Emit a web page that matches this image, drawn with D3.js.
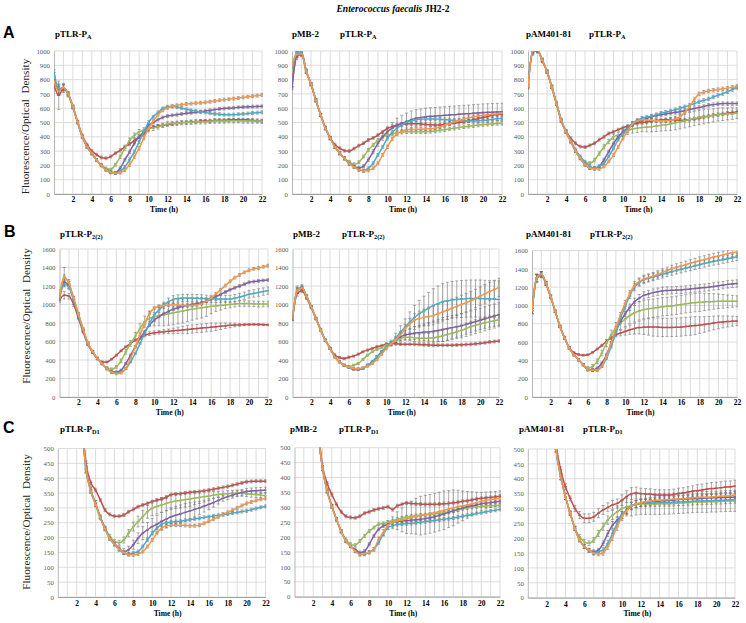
<!DOCTYPE html>
<html><head><meta charset="utf-8">
<script src="https://cdn.jsdelivr.net/npm/d3@7"></script>
<style>body{margin:0;background:#fff}svg{display:block}</style>
</head><body><svg id="c" width="746" height="623"></svg>
<script>
// ---------------- DATA ----------------
const timeH = [0,0.5,1,1.5,2,2.5,3,3.5,4, 4.5,5,5.5,6,6.5,7,7.5,8,8.5, 9,9.5,10,10.5,11,11.5,12,12.5,13, 13.5,14,14.5,15,15.5,16,16.5,17,17.5, 18,18.5,19,19.5,20,20.5,21,21.5,22];
const xTicks = [2,4,6,8,10,12,14,16,18,20,22];
const yTicksA = [0,100,200,300,400,500,600,700,800,900,1000];
const yTicksB = [0,200,400,600,800,1000,1200,1400,1600];
const yTicksC = [0,50,100,150,200,250,300,350,400,450,500];
const rowLetters = ['A','B','C'];
const promoterSubs = ['A','2(2)','D1'];
const plasmidNames = ['', 'pMB-2', 'pAM401-81'];
const seriesColors = ['#C0504D','#9BBB59','#8064A2','#4BACC6','#F79646'];

// A1 pTLR-PA
const a1Red    = [760,690,740,700,610,505,410,345,300, 275,255,250,262,285,305,330,350,375, 400,420,455,468,475,480,485,490,495, 500,500,505,505,510,510,510,515,515, 515,518,520,520,520,518,515,512,510];
const a1Green  = [820,730,745,695,605,500,400,330,285, 240,205,180,172,205,260,320,375,410, 435,445,455,462,470,480,490,493,495, 498,500,502,505,505,505,508,510,510, 510,512,512,512,510,510,510,510,508];
const a1Purple = [800,725,742,698,608,500,398,328,282, 238,200,170,152,150,180,240,295,355, 400,435,480,500,520,535,545,550,555, 560,565,568,572,576,580,585,590,595, 598,600,603,606,608,610,611,612,613];
const a1Cyan   = [850,735,745,700,610,502,400,330,283, 238,198,168,150,145,157,190,240,295, 365,435,500,540,570,598,610,613,608, 600,592,585,580,575,570,565,560,558, 555,555,555,558,560,563,566,569,572];
const a1Orange = [790,720,745,702,612,505,402,332,285, 240,200,168,150,145,150,168,205,260, 320,390,460,510,555,585,603,613,620, 625,630,632,635,638,641,645,650,655, 660,663,667,671,676,680,684,688,693];
// A2 pMB-2 pTLR-PA
const a2Red    = [750,960,975,855,765,655,555,465,395, 345,320,303,300,318,338,355,378,392, 412,435,458,472,482,488,490,492,492, 490,487,484,482,483,486,490,495,500, 505,512,520,527,535,542,550,555,560];
const a2Green  = [850,975,985,858,768,655,552,460,390, 330,285,250,225,208,222,262,308,342, 377,400,412,420,428,432,435,435,435, 435,435,437,440,445,450,455,460,465, 470,474,478,482,485,488,490,493,495];
const a2Purple = [750,970,985,858,768,655,552,460,390, 330,285,250,215,195,182,195,240,296, 354,400,435,460,480,495,505,520,530, 535,540,543,545,548,550,553,555,558, 560,562,565,567,570,571,572,574,575];
const a2Cyan   = [880,990,995,862,770,657,553,460,390, 330,285,248,212,190,170,165,180,215, 273,330,390,430,460,482,500,512,520, 523,525,525,525,523,520,518,515,512, 510,510,510,512,515,518,522,526,530];
const a2Orange = [900,975,980,855,768,655,553,460,390, 330,285,248,212,190,170,160,165,180, 215,273,330,385,420,440,450,451,452, 453,455,457,460,468,480,492,505,515, 525,533,540,545,550,554,558,562,565];
// A3 pAM401-81 pTLR-PA
const a3Red    = [750,990,1000,930,855,750,632,516,440, 390,355,332,328,340,355,380,400,423, 435,450,463,475,485,495,500,505,510, 515,518,520,520,518,515,517,520,525, 530,538,545,550,555,560,565,570,575];
const a3Green  = [760,1000,1005,935,855,748,630,512,433, 367,300,250,216,216,237,283,330,367, 400,412,423,440,455,460,465,467,470, 475,480,485,490,497,505,512,520,528, 535,540,545,550,555,558,560,562,565];
const a3Purple = [760,1000,1005,935,855,748,630,512,433, 367,300,250,205,182,180,193,240,297, 353,400,435,465,490,505,515,528,540, 548,555,560,565,570,575,582,590,598, 605,612,620,625,630,632,632,632,632];
const a3Cyan   = [760,1000,1005,940,860,755,638,520,440, 375,310,263,225,193,182,193,216,263, 320,380,423,460,495,515,530,538,545, 555,565,572,580,590,600,610,620,632, 645,655,665,678,690,702,715,730,745];
const a3Orange = [750,1000,1005,935,855,748,630,512,433, 367,300,250,205,182,175,175,193,228, 272,330,390,440,490,510,520,518,515, 512,510,512,515,525,540,570,610,660, 700,712,720,725,730,736,740,746,752];
// B1 pTLR-P2(2)
const b1Red    = [1050,1100,1090,1000,850,700,565,480,415, 380,378,409,452,500,543,579,615,644, 668,685,695,700,705,710,715,720,725, 730,735,740,745,750,755,760,765,770, 775,778,780,782,784,785,784,782,780];
const b1Green  = [1100,1300,1220,1060,895,730,580,490,416, 362,315,300,326,391,489,579,659,742, 814,850,869,880,890,900,910,920,930, 940,950,958,965,972,980,985,990,995, 1000,1005,1010,1010,1010,1008,1005,1005,1005];
const b1Purple = [1080,1240,1200,1050,887,724,579,489,416, 362,308,271,271,290,362,452,543,633, 706,778,832,870,900,925,950,965,980, 990,1000,1010,1020,1038,1060,1085,1110,1135, 1160,1180,1200,1220,1240,1248,1255,1260,1265];
const b1Cyan   = [1060,1220,1190,1040,880,720,575,485,412, 358,305,268,264,271,308,380,470,579, 688,796,887,940,990,1030,1055,1065,1070, 1070,1070,1068,1065,1062,1060,1060,1060,1060, 1060,1068,1080,1095,1110,1120,1130,1140,1150];
const b1Orange = [1080,1290,1230,1070,900,735,585,492,418, 362,305,265,253,260,308,416,543,670, 796,905,959,980,990,993,995,993,990, 990,990,995,1010,1035,1070,1115,1160,1205, 1250,1290,1320,1348,1370,1385,1395,1408,1420];
// B2 pMB-2 pTLR-P2(2)
const b2Red    = [850,1120,1150,1070,965,845,725,615,530, 455,427,416,430,442,463,489,507,525, 543,554,572,575,575,572,570,570,570, 568,565,562,560,560,560,560,560,562, 565,568,570,575,580,587,595,600,605];
const b2Green  = [850,1150,1180,1086,977,850,724,615,525, 434,380,344,330,344,362,405,452,489, 514,536,561,580,605,630,645,645,640, 637,635,637,640,650,660,675,690,705, 720,740,760,775,790,803,815,825,835];
const b2Purple = [850,1150,1180,1086,977,850,724,615,525, 434,380,344,320,300,297,308,344,380, 434,489,543,580,620,650,670,680,690, 695,700,705,710,720,730,740,750,760, 770,785,800,815,830,845,860,875,890];
const b2Cyan   = [850,1160,1185,1090,980,852,726,617,527, 436,382,345,320,300,297,308,344,380, 434,489,543,585,640,700,755,810,860, 900,930,960,990,1010,1030,1040,1050,1055, 1060,1063,1065,1065,1065,1062,1060,1057,1055];
const b2Orange = [850,1150,1175,1085,975,848,722,613,523, 432,378,342,325,310,308,318,333,362, 405,463,525,570,620,670,735,790,830, 848,860,870,880,900,920,940,960,980, 1000,1020,1040,1065,1090,1115,1140,1162,1185];
// B3 pAM401-81 pTLR-P2(2)
const b3Red    = [940,1290,1330,1235,1090,930,770,645,540, 485,465,455,462,487,524,564,607,648, 678,698,716,735,748,758,763,765,765, 763,760,760,760,762,765,770,775,780, 785,792,800,808,815,820,825,828,830];
const b3Green  = [940,1300,1340,1243,1098,935,771,644,535, 462,407,353,316,335,389,480,589,680, 753,807,851,890,920,940,955,963,970, 978,985,990,995,1002,1010,1018,1025,1030, 1035,1038,1040,1043,1045,1045,1045,1045,1045];
const b3Purple = [940,1300,1340,1243,1098,935,771,644,535, 462,407,353,298,298,316,371,462,589, 716,825,909,980,1040,1080,1110,1125,1140, 1150,1160,1163,1165,1168,1170,1175,1180,1185, 1190,1195,1200,1208,1215,1222,1230,1235,1240];
const b3Cyan   = [940,1300,1340,1243,1098,935,771,644,535, 462,407,353,298,291,298,335,425,553, 698,862,989,1110,1200,1250,1280,1295,1310, 1325,1340,1355,1370,1383,1395,1408,1420,1433, 1445,1458,1470,1480,1490,1500,1510,1520,1530];
const b3Orange = [940,1300,1340,1243,1098,935,771,644,535, 462,407,353,298,291,291,335,444,589, 753,898,1025,1130,1220,1260,1290,1305,1320, 1340,1360,1380,1400,1415,1430,1445,1460,1475, 1490,1502,1515,1528,1540,1552,1565,1575,1585];
// C1 pTLR-PD1
const c1Red    = [1000,1350,1300,1100,850,620,450,385,360, 327,293,278,272,272,276,287,295,304, 310,315,321,326,330,336,345,347,348, 350,352,354,355,358,360,363,366,369, 372,376,380,384,388,389,390,390,390];
const c1Green  = [1000,1350,1300,1100,830,600,430,360,315, 270,232,205,187,183,192,215,237,254, 271,287,299,305,310,315,320,323,325, 328,330,333,335,338,340,343,345,347, 348,349,350,349,348,346,345,343,342];
const c1Purple = [1000,1350,1300,1100,830,600,430,360,315, 270,232,198,181,164,153,159,176,198, 215,226,237,245,255,262,270,275,280, 285,290,295,300,306,312,318,325,332, 338,343,348,352,355,357,358,359,360];
const c1Cyan   = [1000,1350,1300,1100,830,600,425,355,310, 265,228,196,176,159,148,145,148,153, 170,192,215,232,245,250,252,254,255, 258,260,263,265,268,270,273,275,278, 280,283,285,288,290,294,298,302,305];
const c1Orange = [1000,1350,1300,1100,830,600,428,358,312, 268,230,197,179,161,150,142,142,145, 153,170,192,215,232,240,242,242,242, 241,240,240,242,248,255,262,270,278, 285,292,300,308,315,320,325,329,332];
// C2 pMB-2 pTLR-PD1
const c2Red    = [1000,1300,1250,1050,800,580,440,380,343, 310,285,270,266,265,270,280,285,291, 295,298,302,292,305,310,315,313,312, 311,310,310,310,311,312,313,315,317, 320,322,325,328,330,332,333,335,337];
const c2Green  = [1000,1300,1250,1050,780,560,432,355,304, 260,220,192,176,173,187,204,220,232, 243,246,250,255,260,264,268,270,272, 274,275,277,278,280,282,285,288,291, 295,298,300,302,303,304,305,306,307];
const c2Purple = [1000,1300,1250,1050,780,560,432,355,304, 260,220,187,170,159,148,153,176,204, 226,237,243,248,252,254,255,257,258, 260,262,265,268,273,278,283,288,293, 298,302,305,308,312,314,316,318,320];
const c2Cyan   = [1000,1300,1250,1050,780,560,430,353,302, 258,218,186,169,153,142,142,150,159, 181,209,232,238,242,244,245,246,248, 250,252,254,256,258,260,262,264,267, 270,273,276,279,282,285,288,290,293];
const c2Orange = [1000,1300,1250,1050,780,560,432,355,304, 260,220,187,170,153,142,145,148,159, 192,215,240,248,255,258,262,266,270, 272,275,278,282,286,290,294,298,302, 305,308,312,316,320,323,326,328,330];
// C3 pAM401-81 pTLR-PD1
const c3Red    = [1000,1300,1300,1150,950,720,520,430,373, 334,300,278,267,267,272,284,295,304, 312,317,328,340,350,352,350,349,348, 346,345,345,345,347,350,352,355,358, 360,362,365,367,368,370,372,373,375];
const c3Green  = [1000,1300,1300,1150,930,700,500,407,340, 284,233,205,188,183,194,216,239,261, 278,289,300,305,310,313,315,315,315, 315,315,316,316,317,318,319,320,321, 322,322,322,323,323,324,325,325,325];
const c3Purple = [1000,1300,1300,1150,930,700,500,407,340, 284,233,194,172,160,155,160,183,216, 244,261,278,295,308,314,318,320,322, 324,325,326,327,328,330,331,332,333, 333,334,335,336,336,337,337,338,338];
const c3Cyan   = [1000,1300,1300,1150,930,700,500,407,340, 284,233,194,172,158,151,155,160,183, 216,250,278,295,310,315,318,318,318, 319,320,320,320,321,322,322,323,324, 325,325,326,326,327,327,328,329,330];
const c3Orange = [1000,1300,1300,1150,930,700,500,407,340, 284,233,194,172,160,149,147,151,172, 205,239,272,292,308,315,320,323,325, 327,328,329,330,331,332,333,335,336, 337,338,338,339,340,341,342,343,345];

// error bar half-widths (same time points)
const eA1red   = [20,100,30,15,12,10,10,10,10, 10,10,10,10,10,12,12,12,12, 12,12,12,10,10,10,10,10,10, 10,10,10,10,10,10,10,10,10, 10,10,10,10,10,10,10,10,10];
const eA1green = [30,40,25,15,12,10,10,10,10, 8,8,8,8,10,12,14,16,16, 16,18,20,18,16,15,15,15,15, 15,15,15,15,15,15,15,15,15, 15,15,15,15,15,15,15,15,15];
const eA1small = [20,30,20,12,10,8,8,8,8, 8,8,8,8,8,10,10,12,12, 12,12,12,10,10,10,10,10,10, 10,10,10,10,10,10,10,10,10, 10,10,10,10,10,10,10,10,10];
const eA2purple= [20,20,15,12,10,10,10,10,10, 10,10,10,10,10,10,10,12,15, 20,25,30,40,50,55,60,60,60, 60,60,60,60,60,60,60,60,60, 60,60,60,60,60,60,60,60,60];
const eSmall   = [15,20,15,12,10,10,10,10,10, 10,10,10,10,10,10,10,10,10, 10,10,12,12,12,12,12,12,12, 12,12,12,12,12,12,12,12,12, 12,12,12,12,12,12,12,12,12];
const eA3green = [15,15,15,12,10,10,10,10,10, 10,10,10,10,10,12,12,14,15, 18,20,22,25,28,30,30,32,35, 38,40,42,45,48,50,50,50,50, 50,50,48,46,45,44,42,40,38];
const eB1green = [60,100,50,30,20,15,15,12,12, 12,12,15,15,20,25,30,40,50, 60,80,100,110,120,125,130,130,130, 125,120,115,110,100,80,60,50,40, 35,30,30,30,30,30,30,30,30];
const eB1red   = [30,40,30,20,15,12,10,10,10, 10,10,10,10,10,10,10,12,15, 18,20,20,20,22,25,30,35,40, 45,45,45,45,45,45,40,35,30, 25,20,15,12,10,10,10,10,10];
const eB1cyan  = [20,30,20,15,12,10,10,10,10, 10,10,10,10,10,10,10,10,10, 15,20,25,30,35,40,40,40,40, 40,40,40,40,40,40,40,40,40, 40,40,40,40,40,40,40,40,40];
const eB1small = [20,30,20,15,12,12,12,12,12, 12,12,12,12,12,12,12,12,12, 15,15,15,15,15,15,15,15,15, 15,15,15,15,15,15,15,15,15, 15,15,15,15,15,15,15,15,15];
const eB2cyan  = [20,40,30,15,12,10,10,10,10, 10,10,10,10,10,10,10,10,10, 12,15,20,30,50,70,90,110,130, 145,160,170,180,190,195,200,200,200, 200,200,200,200,200,200,200,200,200];
const eB2orange= [20,30,20,15,12,10,10,10,10, 10,10,10,10,10,10,10,10,10, 10,12,15,20,30,40,50,60,70, 80,90,100,100,100,100,100,100,100, 100,100,100,100,100,100,100,100,100];
const eB2purple= [20,30,20,15,12,10,10,10,10, 10,10,10,10,10,10,10,10,10, 10,12,15,20,30,40,50,60,70, 80,90,100,110,120,130,130,130,130, 130,130,130,130,130,130,130,130,130];
const eB2green = [20,30,20,15,12,10,10,10,10, 10,10,10,10,10,10,10,10,10, 10,10,12,15,20,25,30,35,40, 45,50,50,55,55,60,60,60,60, 60,60,60,60,60,60,60,60,60];
const eB3green = [30,40,30,20,15,12,12,12,12, 12,12,12,15,20,25,30,40,50, 60,70,80,90,100,100,100,100,100, 100,100,100,100,100,100,100,100,100, 100,95,90,85,80,75,70,65,60];
const eB3red   = [30,40,30,20,15,12,12,12,12, 10,10,10,10,10,10,12,15,18, 20,30,40,50,60,70,80,90,100, 100,100,100,100,100,100,100,100,100, 90,85,80,75,70,65,60,55,50];
const eB3mid   = [30,40,30,20,15,12,12,12,12, 12,12,12,12,12,12,12,15,18, 20,25,30,35,40,40,40,40,40, 40,40,40,40,40,40,40,40,40, 40,40,40,40,40,40,40,40,40];
const eC1green = [10,10,10,10,10,10,10,10,10, 6,6,6,6,8,10,12,15,18, 20,22,25,25,25,25,25,25,25, 25,25,22,20,18,15,12,10,10, 10,10,10,10,10,10,10,10,10];
const eC1purple= [10,10,10,10,10,10,10,10,10, 6,6,6,6,8,10,12,15,18, 22,25,28,30,30,30,30,30,30, 30,28,25,22,20,18,15,12,10, 10,10,10,10,10,10,10,10,10];
const eCsmall  = [10,10,10,10,10,8,8,6,6, 5,5,5,5,5,5,5,5,5, 5,5,5,5,5,5,5,5,5, 5,5,5,5,5,5,5,5,5, 5,5,5,5,5,5,5,5,5];
const eC2orange= [10,10,10,10,10,8,8,6,6, 5,5,5,5,5,5,5,5,6, 8,10,15,20,30,40,50,55,60, 65,65,65,65,65,65,62,60,55, 50,45,40,35,30,28,26,25,25];
const eC3red   = [10,10,10,10,10,10,10,10,10, 8,10,12,15,15,15,15,15,15, 15,15,18,20,20,20,18,18,18, 18,18,18,18,18,18,18,18,18, 20,20,20,20,20,20,20,20,20];
const eC3green = [10,10,10,10,10,10,10,10,10, 8,8,8,8,8,8,10,12,14, 15,20,25,30,35,35,35,35,35, 35,35,35,35,35,35,35,35,35, 35,35,35,35,35,35,35,35,35];
const eC3small = [10,10,10,10,10,10,10,10,10, 6,6,6,6,6,6,6,8,10, 12,12,12,12,12,12,12,12,12, 12,12,12,12,12,12,12,12,12, 12,12,12,12,12,12,12,12,12];

// ---------------- LAYOUT ----------------
const SERIF = '"Liberation Serif","Times New Roman",serif';
const SANS = '"Liberation Sans",Arial,sans-serif';
const panels = [
 {row:0,col:0,x0:54,x1:262,yt:51,yb:194,ymax:1000,ticks:yTicksA,
  s:[a1Red,a1Green,a1Purple,a1Cyan,a1Orange], e:[eA1red,eA1green,eA1small,eA1small,eA1small]},
 {row:0,col:1,x0:292,x1:502,yt:51,yb:194,ymax:1000,ticks:yTicksA,
  s:[a2Red,a2Green,a2Purple,a2Cyan,a2Orange], e:[eSmall,eSmall,eA2purple,eSmall,eSmall]},
 {row:0,col:2,x0:528,x1:737,yt:51,yb:194,ymax:1000,ticks:yTicksA,
  s:[a3Red,a3Green,a3Purple,a3Cyan,a3Orange], e:[eSmall,eA3green,eSmall,eSmall,eSmall]},
 {row:1,col:0,x0:59.5,x1:268,yt:249,yb:397,ymax:1600,ticks:yTicksB,
  s:[b1Red,b1Green,b1Purple,b1Cyan,b1Orange], e:[eB1red,eB1green,eB1small,eB1cyan,eB1small]},
 {row:1,col:1,x0:292.5,x1:499,yt:249,yb:397,ymax:1600,ticks:yTicksB,
  s:[b2Red,b2Green,b2Purple,b2Cyan,b2Orange], e:[eB1small,eB2green,eB2purple,eB2cyan,eB2orange]},
 {row:1,col:2,x0:532,x1:737,yt:250.5,yb:397,ymax:1600,ticks:yTicksB,
  s:[b3Red,b3Green,b3Purple,b3Cyan,b3Orange], e:[eB3red,eB3green,eB3mid,eB3mid,eB3mid]},
 {row:2,col:0,x0:57.8,x1:265.5,yt:448.5,yb:597,ymax:500,ticks:yTicksC,
  s:[c1Red,c1Green,c1Purple,c1Cyan,c1Orange], e:[eCsmall,eC1green,eC1purple,eCsmall,eCsmall]},
 {row:2,col:1,x0:294.5,x1:500,yt:447.7,yb:596.7,ymax:500,ticks:yTicksC,
  s:[c2Red,c2Green,c2Purple,c2Cyan,c2Orange], e:[eCsmall,eCsmall,eCsmall,eCsmall,eC2orange]},
 {row:2,col:2,x0:527.8,x1:735,yt:449,yb:597.7,ymax:500,ticks:yTicksC,
  s:[c3Red,c3Green,c3Purple,c3Cyan,c3Orange], e:[eC3red,eC3green,eC3small,eC3small,eC3small]}
];
const titleY = [37,237,432];
const titlePos = [
  [[0,55],[292,340],[526,589]],
  [[0,60],[293,342],[526,590]],
  [[0,60],[290,339],[519,583]]
];
const timeLabelY = [212,415,616];
const yLabelPos = [[29,126.5],[30,316],[30,522]];
const letterPos = [[3,38],[4,237],[3,433]];

const svg = d3.select('#c');

// main title
const mt = svg.append('text').attr('x',393).attr('y',12).attr('text-anchor','middle')
  .attr('font-family',SERIF).attr('font-size',9.5).attr('font-weight','bold');
mt.append('tspan').attr('font-style','italic').text('Enterococcus faecalis');
mt.append('tspan').text(' JH2-2');

panels.forEach((p,pi)=>{
  const x = d3.scaleLinear().domain([0,22]).range([p.x0,p.x1]);
  const y = d3.scaleLinear().domain([0,p.ymax]).range([p.yb,p.yt]);
  const g = svg.append('g');
  // grid
  g.append('g').selectAll('line').data(p.ticks).join('line')
    .attr('x1',p.x0).attr('x2',p.x1).attr('y1',d=>y(d)).attr('y2',d=>y(d))
    .attr('stroke','#d4d4d4').attr('stroke-width',0.8);
  g.append('g').selectAll('line').data(d3.range(1,23)).join('line')
    .attr('x1',d=>x(d)).attr('x2',d=>x(d)).attr('y1',p.yt).attr('y2',p.yb)
    .attr('stroke','#d4d4d4').attr('stroke-width',0.8);
  // axes
  g.append('g').attr('transform',`translate(${p.x0},0)`)
    .call(d3.axisLeft(y).tickValues(p.ticks).tickFormat(d3.format('d')).tickSize(0).tickPadding(4))
    .call(a=>{a.select('.domain').attr('stroke','#a6a6a6').attr('stroke-width',0.8);
      a.selectAll('text').attr('font-family',SERIF).attr('font-size',6.8).attr('fill','#595959');});
  g.append('g').attr('transform',`translate(0,${p.yb})`)
    .call(d3.axisBottom(x).tickValues(xTicks).tickFormat(d3.format('d')).tickSize(0).tickPadding(p.row===2?3.5:2.8))
    .call(a=>{a.select('.domain').attr('stroke','#8c8c8c').attr('stroke-width',0.8);
      a.selectAll('text').attr('font-family',SERIF).attr('font-size',7.5).attr('font-weight','bold').attr('fill','#000');});
  // clip
  const cid = 'clip'+pi;
  svg.append('clipPath').attr('id',cid).append('rect')
    .attr('x',p.x0).attr('y',p.yt).attr('width',p.x1-p.x0+1).attr('height',p.yb-p.yt);
  const plot = g.append('g').attr('clip-path',`url(#${cid})`);
  // error bars
  p.s.forEach((vals,si)=>{
    const errs = p.e[si];
    const eg = plot.append('g').attr('stroke','#747474').attr('stroke-width',0.6);
    const pts = vals.map((v,k)=>({t:timeH[k],v:v,e:errs[k]}));
    eg.selectAll('.eb').data(pts).join('path')
      .attr('fill','none')
      .attr('d',d=>{const xx=x(d.t),y1=y(d.v-d.e),y2=y(d.v+d.e);
        return `M${xx},${y1}V${y2}M${xx-1.5},${y1}H${xx+1.5}M${xx-1.5},${y2}H${xx+1.5}`;});
  });
  // lines with small dash markers
  const line = d3.line().x((d,k)=>x(timeH[k])).y(d=>y(d)).curve(d3.curveMonotoneX);
  p.s.forEach((vals,si)=>{
    plot.append('path').datum(vals).attr('d',line).attr('fill','none')
      .attr('stroke',seriesColors[si]).attr('stroke-width',1.5).attr('stroke-linejoin','round');
    plot.append('g').selectAll('path').data(vals).join('path')
      .attr('d',(d,k)=>`M${x(timeH[k])-1.4},${y(d)}H${x(timeH[k])+1.4}`)
      .attr('stroke',seriesColors[si]).attr('stroke-width',1.3);
  });
  // x-axis title
  svg.append('text').attr('x',(p.x0+p.x1)/2+6).attr('y',timeLabelY[p.row]).attr('text-anchor','middle')
    .attr('font-family',SERIF).attr('font-size',7.6).attr('font-weight','bold').text('Time (h)');
  // panel titles
  const tp = titlePos[p.row][p.col];
  if (plasmidNames[p.col]) {
    svg.append('text').attr('x',tp[0]).attr('y',titleY[p.row]).attr('font-family',SERIF)
      .attr('font-size',9).attr('font-weight','bold').text(plasmidNames[p.col]);
  }
  const t2 = svg.append('text').attr('x',tp[1]).attr('y',titleY[p.row]).attr('font-family',SERIF)
      .attr('font-size',9).attr('font-weight','bold');
  t2.append('tspan').text('pTLR-P');
  t2.append('tspan').attr('font-size',6.3).attr('dy',2.2).text(promoterSubs[p.row]);
});

// row letters and y labels
rowLetters.forEach((L,r)=>{
  svg.append('text').attr('x',letterPos[r][0]).attr('y',letterPos[r][1])
    .attr('font-family',SANS).attr('font-size',16).attr('font-weight','bold').text(L);
  svg.append('text').attr('transform',`translate(${yLabelPos[r][0]},${yLabelPos[r][1]}) rotate(-90)`)
    .attr('text-anchor','middle').attr('font-family',SERIF).attr('font-size',11.2)
    .attr('fill','#222').style('white-space','pre').text('Fluorescence/Optical  Density');
});
</script></body></html>
